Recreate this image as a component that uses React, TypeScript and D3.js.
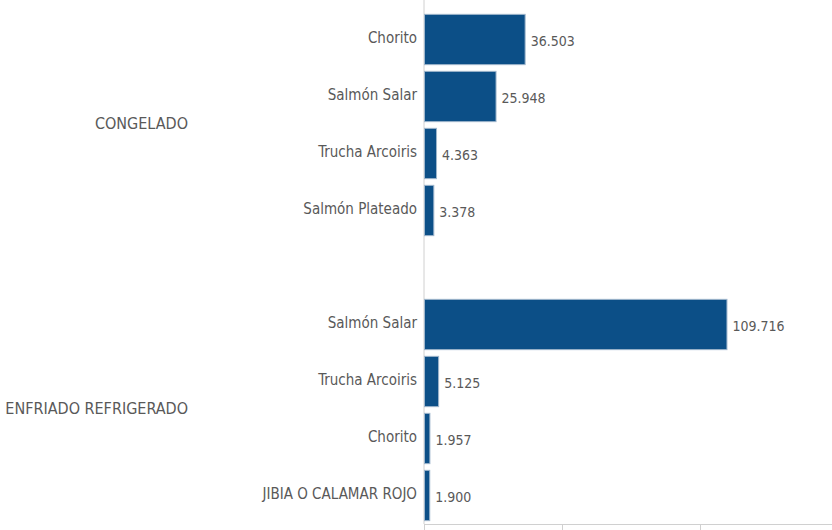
import React from "react";
import * as d3 from "d3";

const groups = ["CONGELADO", "ENFRIADO REFRIGERADO"];
const congeladoItems = ["Chorito", "Salmón Salar", "Trucha Arcoiris", "Salmón Plateado"];
const congeladoValues = [36503, 25948, 4363, 3378];
const enfriadoItems = ["Salmón Salar", "Trucha Arcoiris", "Chorito", "JIBIA O CALAMAR ROJO"];
const enfriadoValues = [109716, 5125, 1957, 1900];
const xTicks = [0, 50000, 100000, 150000];

const W = 832;
const H = 530;
const FONT = "'Liberation Sans Narrow', 'DejaVu Sans Condensed', 'Roboto', sans-serif";
const TEXT = "#595959";
const BAR = "#0c4f87";

type Row = { group: number; slot: number; label: string; value: number };

export default function App() {
  const rows: Row[] = [];
  congeladoItems.forEach((l, i) => rows.push({ group: 0, slot: i, label: l, value: congeladoValues[i] }));
  enfriadoItems.forEach((l, i) => rows.push({ group: 1, slot: i + 5, label: l, value: enfriadoValues[i] }));

  const x = d3.scaleLinear().domain([0, 148000]).range([424, W]);
  const y = d3.scaleBand<number>().domain(d3.range(9)).range([11, 524]).paddingInner(0.1).paddingOuter(0.05);
  const fmt = d3.formatLocale({ decimal: ",", thousands: ".", grouping: [3], currency: ["", ""] }).format(",d");

  const groupCenter = (g: number) => {
    const slots = rows.filter((r) => r.group === g).map((r) => r.slot);
    const a = y(d3.min(slots)!)!;
    const b = y(d3.max(slots)!)! + y.bandwidth();
    return (a + b) / 2;
  };
  const axisY = 524;

  return (
    <svg width={W} height={H} style={{ position: "absolute", left: 0, top: 0, fontFamily: FONT }}>
      <rect width={W} height={H} fill="#fff" />
      <line x1={x(0)} x2={x(0)} y1={0} y2={axisY} stroke="#d0d0d0" strokeWidth={1} />
      <line x1={x(0)} x2={W} y1={axisY + 0.5} y2={axisY + 0.5} stroke="#d0d0d0" strokeWidth={1} />
      {xTicks.map((t) => (
        <line key={t} x1={Math.round(x(t)) + 0.5} x2={Math.round(x(t)) + 0.5} y1={axisY} y2={H} stroke="#d0d0d0" />
      ))}
      {rows.map((r, i) => {
        const y0 = y(r.slot)!;
        const bw = y.bandwidth();
        return (
          <g key={i}>
            <rect
              x={x(0) + 0.5}
              y={y0 + 0.5}
              width={Math.max(0, x(r.value) - x(0))}
              height={bw - 1}
              fill={BAR}
              stroke="#9fb6cc"
              strokeWidth={1}
            />
            <text x={417} y={y0 + bw / 2 - 2} textAnchor="end" dominantBaseline="central" fontSize={15} fill={TEXT}>
              {r.label}
            </text>
            <text x={x(r.value) + 6} y={y0 + bw / 2 + 1} dominantBaseline="central" fontSize={14} fill={TEXT}>
              {fmt(r.value)}
            </text>
          </g>
        );
      })}
      {groups.map((g, gi) => (
        <text key={g} x={188} y={groupCenter(gi) - 2} textAnchor="end" dominantBaseline="central" fontSize={16} fill={TEXT}>
          {g}
        </text>
      ))}
    </svg>
  );
}
